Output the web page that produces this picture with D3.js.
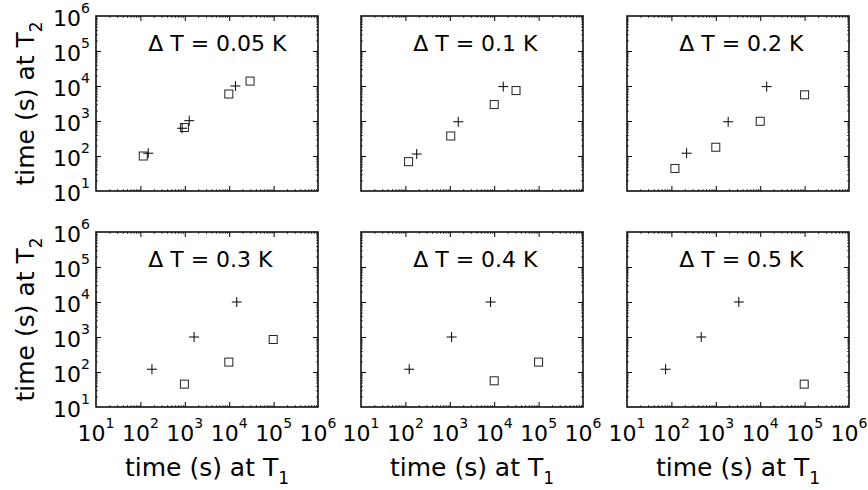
<!DOCTYPE html>
<html>
<head>
<meta charset="utf-8">
<script src="https://cdn.jsdelivr.net/npm/d3@7"></script>
<style>
  body { margin: 0; background: #fff; }
  svg { font-family: "DejaVu Sans", Arial, sans-serif; }
  .axis .domain { display: none; }
  .axis line { stroke: #000; }
</style>
</head>
<body>
<div id="chart"></div>
<script>
// temperature step of each panel
const deltaT = ["0.05", "0.1", "0.2", "0.3", "0.4", "0.5"];

// "+" markers, time at T1 and time at T2 (s)
const plusT1 = [
    [150, 870, 1260, 13800],
    [180, 1550, 16000],
    [220, 1900, 14000],
    [182, 1620, 14800],
    [122, 1100, 8300],
    [74, 470, 3300]
];
const plusT2 = [
    [120, 620, 1020, 10000],
    [114, 950, 9600],
    [120, 950, 9600],
    [120, 1000, 10000],
    [120, 1000, 10000],
    [120, 1000, 10000]
];

// square markers, time at T1 and time at T2 (s)
const squareT1 = [
    [116, 980, 9800, 29500],
    [118, 1050, 10000, 31000],
    [120, 1000, 10000, 100000],
    [980, 9800, 98000],
    [10000, 100000],
    [98000]
];
const squareT2 = [
    [100, 650, 5900, 13800],
    [69, 373, 2950, 7400],
    [44, 178, 980, 5600],
    [45, 192, 850],
    [56, 192],
    [45]
];

// tick exponents (10^1 ... 10^6)
const exponents = [1, 2, 3, 4, 5, 6];

const width = 868;
const height = 490;

const panelW = 222;
const panelH = 175;
const colLeft = [96, 361, 627];
const rowTop = [16, 232];

const svg = d3.select("#chart")
    .append("svg")
    .attr("width", width)
    .attr("height", height);

const x = d3.scaleLog().domain([10, 1e6]).range([0, panelW]);
const y = d3.scaleLog().domain([10, 1e6]).range([panelH, 0]);

const majors = exponents.map(e => Math.pow(10, e));
const minors = x.ticks().filter(v => !majors.includes(v));

function addTickLabel(sel, e, tx, ty, anchor) {
    const t = sel.append("text")
        .attr("x", tx)
        .attr("y", ty)
        .attr("text-anchor", anchor)
        .style("font-size", "22px")
        .text("10");
    t.append("tspan")
        .attr("dy", -13)
        .style("font-size", "14px")
        .text(e);
}

deltaT.forEach((dt, i) => {
    const col = i % 3;
    const row = Math.floor(i / 3);
    const g = svg.append("g")
        .attr("transform", `translate(${colLeft[col]}, ${rowTop[row]})`);

    // ticks on all four sides, pointing inward
    const sides = [
        [d3.axisBottom(x), `translate(0, ${panelH})`],
        [d3.axisTop(x), "translate(0, 0)"],
        [d3.axisLeft(y), "translate(0, 0)"],
        [d3.axisRight(y), `translate(${panelW}, 0)`]
    ];
    sides.forEach(([ax, tr]) => {
        g.append("g").attr("class", "axis").attr("transform", tr)
            .call(ax.tickValues(majors.slice(1, -1)).tickSize(-5).tickFormat(""));
        g.append("g").attr("class", "axis").attr("transform", tr)
            .call(ax.tickValues(minors).tickSize(-2).tickFormat(""))
            .selectAll("line").style("stroke", "#555");
    });

    // box
    g.append("rect")
        .attr("width", panelW)
        .attr("height", panelH)
        .attr("fill", "none")
        .attr("stroke", "#000")
        .attr("stroke-width", 1.5);

    // title
    g.append("text")
        .attr("x", x(150))
        .attr("y", y(1e5))
        .style("font-size", "22px")
        .text(`\u0394 T = ${dt} K`);

    // squares
    g.selectAll(".sq")
        .data(squareT1[i].map((v, k) => [v, squareT2[i][k]]))
        .enter()
        .append("rect")
        .attr("x", d => x(d[0]) - 4)
        .attr("y", d => y(d[1]) - 4)
        .attr("width", 8)
        .attr("height", 8)
        .attr("fill", "none")
        .attr("stroke", "#222")
        .attr("stroke-width", 1);

    // plus markers
    g.selectAll(".plus")
        .data(plusT1[i].map((v, k) => [v, plusT2[i][k]]))
        .enter()
        .append("path")
        .attr("d", d => `M${x(d[0]) - 5},${y(d[1])}h10M${x(d[0])},${y(d[1]) - 5}v10`)
        .attr("stroke", "#000")
        .attr("stroke-width", 1);

    // y tick labels on first column
    if (col === 0) {
        exponents.forEach(e => addTickLabel(g, e, -6, y(Math.pow(10, e)) + 10, "end"));
        const lab = g.append("text")
            .attr("transform", `translate(${34 - colLeft[0]}, ${panelH / 2}) rotate(-90)`)
            .attr("text-anchor", "middle")
            .style("font-size", "25px")
            .text("time (s) at T");
        lab.append("tspan").attr("dy", 8).style("font-size", "17px").text("2");
    }

    // x tick labels on bottom row
    if (row === 1) {
        exponents.forEach(e => addTickLabel(g, e, x(Math.pow(10, e)), panelH + 34, "middle"));
        const lab = g.append("text")
            .attr("x", panelW / 2)
            .attr("y", panelH + 69)
            .attr("text-anchor", "middle")
            .style("font-size", "25px")
            .text("time (s) at T");
        lab.append("tspan").attr("dy", 8).style("font-size", "17px").text("1");
    }
});
</script>
</body>
</html>
